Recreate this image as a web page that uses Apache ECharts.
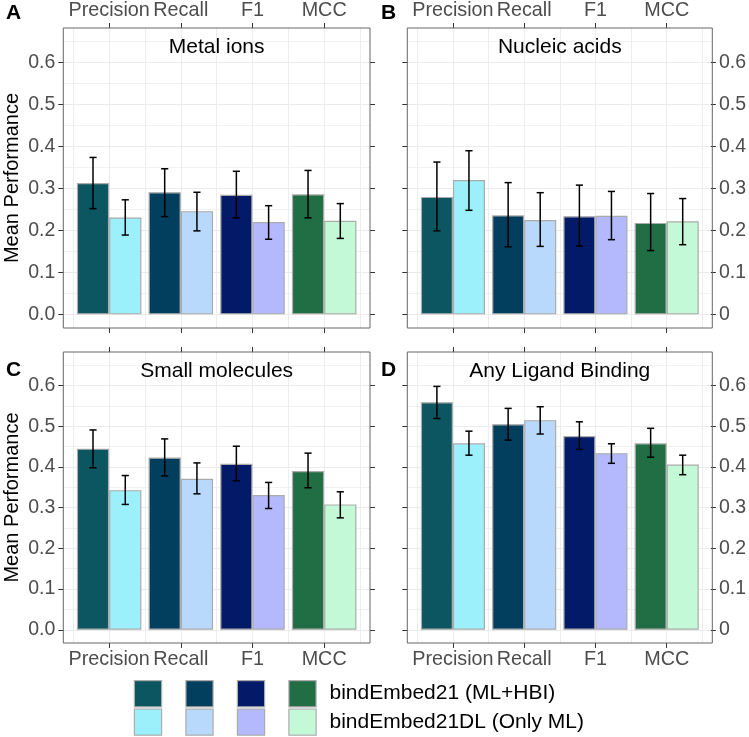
<!DOCTYPE html>
<html>
<head>
<meta charset="utf-8">
<script src="https://cdn.jsdelivr.net/npm/echarts@6/dist/echarts.min.js"></script>
<style>html,body{margin:0;padding:0;background:#fff;}#c{width:749px;height:737px;}</style>
</head>
<body>
<div id="c"></div>
<script>
// ---- data ----
const categories = ['Precision', 'Recall', 'F1', 'MCC'];
const panelTitles = ['Metal ions', 'Nucleic acids', 'Small molecules', 'Any Ligand Binding'];
const panelLetters = ['A', 'B', 'C', 'D'];
const seriesNames = ['bindEmbed21 (ML+HBI)', 'bindEmbed21DL (Only ML)'];
const darkColors = ['#0B5660', '#023F5F', '#021A67', '#216E45'];
const lightColors = ['#9CF0FC', '#B8D9FC', '#B3B9FC', '#C4F9D8'];
const yTicks = [0, 0.1, 0.2, 0.3, 0.4, 0.5, 0.6];

// Metal ions
const metalHBI = [0.313, 0.291, 0.285, 0.286];
const metalHBILow = [0.252, 0.233, 0.230, 0.230];
const metalHBIHigh = [0.374, 0.347, 0.341, 0.343];
const metalDL = [0.231, 0.246, 0.220, 0.223];
const metalDLLow = [0.189, 0.199, 0.179, 0.181];
const metalDLHigh = [0.273, 0.291, 0.259, 0.264];
// Nucleic acids
const nucleicHBI = [0.280, 0.236, 0.234, 0.218];
const nucleicHBILow = [0.199, 0.161, 0.163, 0.152];
const nucleicHBIHigh = [0.363, 0.314, 0.308, 0.288];
const nucleicDL = [0.320, 0.225, 0.235, 0.222];
const nucleicDLLow = [0.248, 0.162, 0.178, 0.166];
const nucleicDLHigh = [0.390, 0.290, 0.293, 0.276];
// Small molecules
const smallHBI = [0.445, 0.423, 0.408, 0.390];
const smallHBILow = [0.398, 0.378, 0.366, 0.349];
const smallHBIHigh = [0.491, 0.469, 0.451, 0.434];
const smallDL = [0.343, 0.371, 0.331, 0.308];
const smallDLLow = [0.308, 0.334, 0.298, 0.275];
const smallDLHigh = [0.379, 0.410, 0.362, 0.339];
// Any ligand binding
const anyHBI = [0.559, 0.505, 0.476, 0.458];
const anyHBILow = [0.519, 0.466, 0.443, 0.424];
const anyHBIHigh = [0.598, 0.544, 0.511, 0.495];
const anyDL = [0.458, 0.515, 0.434, 0.406];
const anyDLLow = [0.429, 0.481, 0.409, 0.381];
const anyDLHigh = [0.488, 0.548, 0.457, 0.429];

const panelData = [
  [metalHBI, metalHBILow, metalHBIHigh, metalDL, metalDLLow, metalDLHigh],
  [nucleicHBI, nucleicHBILow, nucleicHBIHigh, nucleicDL, nucleicDLLow, nucleicDLHigh],
  [smallHBI, smallHBILow, smallHBIHigh, smallDL, smallDLLow, smallDLHigh],
  [anyHBI, anyHBILow, anyHBIHigh, anyDL, anyDLLow, anyDLHigh]
];

// ---- layout ----
const FONT = '"Liberation Sans", Arial, Helvetica, sans-serif';
const yLo = -0.0325, yHi = 0.6825, yDataMax = 0.65;
const colL = [63.3, 407.3], colR = [370, 712.3];
const rowT = [28, 352], rowB = [328, 643];
const inset = 10;
const GRID = '#EBEBEB';

const grids = [], xAxes = [], yAxes = [], series = [], titles = [];

for (let p = 0; p < 4; p++) {
  const col = p % 2, row = Math.floor(p / 2);
  const L = colL[col], R = colR[col], T = rowT[row], B = rowB[row];
  const W = R - L, H = B - T;
  const hTop = T + (yHi - yDataMax) / (yHi - yLo) * H;
  const hH = yDataMax / (yHi - yLo) * H;

  const gH = grids.length;
  grids.push({left: L, top: hTop, width: W, height: hH, containLabel: false});
  const gG = grids.length;
  grids.push({left: L + inset, top: T, width: W - 2 * inset, height: H, containLabel: false});
  const gF = grids.length;
  grids.push({left: L, top: T, width: W, height: H, show: true, borderColor: '#666666', borderWidth: 1, backgroundColor: 'transparent', z: 1});

  // grid H axes: horizontal grid lines and y ticks/labels
  xAxes.push({type: 'value', gridIndex: gH, show: false});
  yAxes.push({type: 'value', gridIndex: gH, min: 0, max: yDataMax, interval: 0.05, position: 'left',
    axisLine: {show: false}, axisTick: {show: false}, axisLabel: {show: false},
    splitLine: {show: true, lineStyle: {color: GRID, width: 0.7}}});
  const labelAxis = (side, showLabel) => ({
    type: 'value', gridIndex: gH, min: 0, max: yDataMax, interval: 0.1, position: side,
    axisLine: {show: false, onZero: false},
    axisTick: {show: true, length: 5, customValues: yTicks, lineStyle: {color: '#333333', width: 1}},
    axisLabel: {show: showLabel, customValues: yTicks, margin: 8, fontSize: 19.5, fontFamily: FONT, color: '#4D4D4D',
      formatter: v => (side === 'right' && v === 0) ? '0' : v.toFixed(1)},
    splitLine: {show: side === 'left', lineStyle: {color: GRID, width: 1.2}},
    name: (side === 'left' && col === 0) ? 'Mean Performance' : '',
    nameLocation: 'middle', nameRotate: 90, nameGap: 41,
    nameTextStyle: {fontSize: 20, fontFamily: FONT, color: '#000'}
  });
  yAxes.push(labelAxis('left', col === 0));
  yAxes.push(labelAxis('right', col === 1));

  // grid G axes: bars and vertical grid lines
  const xBottom = xAxes.length;
  const catAxis = (pos, showLabel) => ({
    type: 'category', gridIndex: gG, data: categories, position: pos, boundaryGap: true,
    axisLine: {show: false, onZero: false},
    axisTick: {show: true, alignWithLabel: true, interval: 0, length: 5, lineStyle: {color: '#333333', width: 1}},
    axisLabel: {show: showLabel, interval: 0, margin: 7, fontSize: 19.8, fontFamily: FONT, color: '#4D4D4D'},
    splitLine: {show: false}
  });
  xAxes.push(catAxis('bottom', row === 1));
  xAxes.push(catAxis('top', row === 0));
  xAxes.push({type: 'value', gridIndex: gG, min: -0.5, max: 3.5, interval: 0.5, position: 'bottom',
    axisLine: {show: false, onZero: false}, axisTick: {show: false}, axisLabel: {show: false},
    splitLine: {show: true, lineStyle: {color: GRID, width: 0.9}}});
  const yG = yAxes.length;
  yAxes.push({type: 'value', gridIndex: gG, min: yLo, max: yHi, show: false, splitLine: {show: false}});

  // frame grid axes (hidden)
  xAxes.push({type: 'value', gridIndex: gF, show: false});
  yAxes.push({type: 'value', gridIndex: gF, show: false});

  const d = panelData[p];
  series.push({
    name: seriesNames[0], type: 'bar', xAxisIndex: xBottom, yAxisIndex: yG,
    barWidth: '45%', barGap: '0%', z: 2,
    itemStyle: {borderColor: '#ABABAB', borderWidth: 1.2},
    data: d[0].map((v, i) => ({value: v, itemStyle: {color: darkColors[i]}}))
  });
  series.push({
    name: seriesNames[1], type: 'bar', xAxisIndex: xBottom, yAxisIndex: yG,
    barWidth: '45%', barGap: '0%', z: 2,
    itemStyle: {borderColor: '#ABABAB', borderWidth: 1.2},
    data: d[3].map((v, i) => ({value: v, itemStyle: {color: lightColors[i]}}))
  });
  const errData = [];
  for (let i = 0; i < categories.length; i++) {
    errData.push([i, d[1][i], d[2][i], -1]);
    errData.push([i, d[4][i], d[5][i], 1]);
  }
  series.push({
    name: 'err' + p, type: 'custom', xAxisIndex: xBottom, yAxisIndex: yG, z: 5, silent: true,
    encode: {x: 0, y: [1, 2]},
    data: errData,
    renderItem: function (params, api) {
      const x = api.value(0), lo = api.value(1), hi = api.value(2), side = api.value(3);
      const bw = api.size([1, 0])[0];
      const pLo = api.coord([x, lo]), pHi = api.coord([x, hi]);
      const cx = pLo[0] + side * 0.225 * bw;
      const cap = 0.05 * bw;
      const st = {stroke: '#000', lineWidth: 1.5};
      return {type: 'group', children: [
        {type: 'line', shape: {x1: cx, y1: pLo[1], x2: cx, y2: pHi[1]}, style: st},
        {type: 'line', shape: {x1: cx - cap, y1: pLo[1], x2: cx + cap, y2: pLo[1]}, style: st},
        {type: 'line', shape: {x1: cx - cap, y1: pHi[1], x2: cx + cap, y2: pHi[1]}, style: st}
      ]};
    }
  });

  titles.push({text: panelTitles[p], left: (L + R) / 2, top: T + 9, textAlign: 'center', padding: 0,
    textStyle: {fontSize: 21, fontWeight: 'normal', fontFamily: FONT, color: '#000'}});
  titles.push({text: panelLetters[p], left: col === 0 ? 6 : 381, top: row === 0 ? 3 : 360, padding: 0,
    textStyle: {fontSize: 21, fontWeight: 'bold', fontFamily: FONT, color: '#000'}});
}

// legend rich styles
const rich = {t: {fontSize: 21, fontFamily: FONT, color: '#000', padding: [0, 0, 0, 14]}, s: {width: 25.5}};
for (let i = 0; i < 4; i++) {
  rich['d' + i] = {width: 26, height: 25, backgroundColor: darkColors[i], borderColor: '#ABABAB', borderWidth: 1.2};
  rich['l' + i] = {width: 26, height: 25, backgroundColor: lightColors[i], borderColor: '#ABABAB', borderWidth: 1.2};
}

const option = {
  animation: false,
  backgroundColor: '#fff',
  title: titles,
  grid: grids,
  xAxis: xAxes,
  yAxis: yAxes,
  legend: {
    left: 130, top: 680, orient: 'vertical', icon: 'none', itemWidth: 0, itemHeight: 0, itemGap: 1,
    selectedMode: false, padding: 0,
    data: seriesNames,
    textStyle: {rich: rich, fontFamily: FONT},
    formatter: name => {
      const k = name === seriesNames[0] ? 'd' : 'l';
      return '{' + k + '0|}{s|}{' + k + '1|}{s|}{' + k + '2|}{s|}{' + k + '3|}{t|' + name + '}';
    }
  },
  series: series
};

const chart = echarts.init(document.getElementById('c'), null, {renderer: 'canvas'});
chart.setOption(option);
</script>
</body>
</html>
